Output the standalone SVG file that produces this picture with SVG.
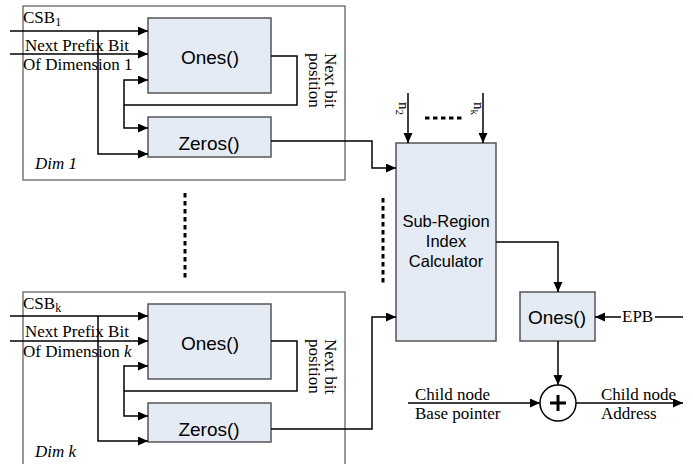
<svg xmlns="http://www.w3.org/2000/svg" width="693" height="464" viewBox="0 0 693 464">
<defs>
<marker id="ah" markerUnits="userSpaceOnUse" markerWidth="11" markerHeight="10" refX="10" refY="4.5" orient="auto">
<path d="M0,0 L10,4.5 L0,9 z" fill="#000"/>
</marker>
<style>
.frame{fill:#fff;stroke:#555;stroke-width:1.2}
.box{fill:#e5ebf5;stroke:#555;stroke-width:1.5}
.ln{fill:none;stroke:#000;stroke-width:1.5}
.ar{fill:none;stroke:#000;stroke-width:1.5;marker-end:url(#ah)}
.dot{fill:none;stroke:#000;stroke-width:3;stroke-dasharray:4.5,3.5}
.tm{font-family:'Liberation Serif','Times New Roman',serif;font-size:17px;fill:#000}
.ts{font-family:'Liberation Serif','Times New Roman',serif;font-size:15px;fill:#000}
.ss{font-family:'Liberation Sans',Arial,sans-serif;font-size:19px;fill:#000}
.ss2{font-family:'Liberation Sans',Arial,sans-serif;font-size:16.5px;fill:#000}
</style>
</defs>
<rect width="693" height="464" fill="#fff"/>

<g id="dim1">
<rect class="frame" x="23" y="6" width="322" height="174"/>
<text class="tm" x="23" y="23">CSB<tspan font-size="12" dy="3">1</tspan></text>
<text class="tm" x="25" y="51">Next Prefix Bit</text>
<text class="tm" x="23" y="70">Of Dimension 1</text>
<text class="tm" x="35" y="169" font-style="italic">Dim 1</text>
<text class="tm" transform="translate(325,53) rotate(90)">Next bit<tspan x="0" dy="16">position</tspan></text>
</g>
<g id="ones1">
<rect class="box" x="148" y="18" width="123" height="75"/>
<text class="ss" x="210" y="64" text-anchor="middle">Ones()</text>
</g>
<g id="zeros1">
<rect class="box" x="148" y="117" width="123" height="40"/>
<text class="ss" x="209" y="150" text-anchor="middle">Zeros()</text>
</g>

<g id="dimk">
<rect class="frame" x="23" y="292" width="322" height="180"/>
<text class="tm" x="23" y="309">CSB<tspan font-size="12" dy="3">k</tspan></text>
<text class="tm" x="25" y="337">Next Prefix Bit</text>
<text class="tm" x="23" y="357">Of Dimension <tspan font-style="italic">k</tspan></text>
<text class="tm" x="35" y="457" font-style="italic">Dim k</text>
<text class="tm" transform="translate(325,339) rotate(90)">Next bit<tspan x="0" dy="16">position</tspan></text>
</g>
<g id="onesk">
<rect class="box" x="148" y="304" width="123" height="75"/>
<text class="ss" x="210" y="350" text-anchor="middle">Ones()</text>
</g>
<g id="zerosk">
<rect class="box" x="148" y="403" width="123" height="39"/>
<text class="ss" x="209" y="436" text-anchor="middle">Zeros()</text>
</g>

<g id="subregion">
<rect class="box" x="396" y="143" width="100" height="198"/>
<text class="ss2" x="446" y="227" text-anchor="middle">Sub-Region</text>
<text class="ss2" x="446" y="247" text-anchor="middle">Index</text>
<text class="ss2" x="446" y="267" text-anchor="middle">Calculator</text>
</g>
<g id="ones2">
<rect class="box" x="520" y="292" width="75" height="49"/>
<text class="ss" x="557" y="324" text-anchor="middle">Ones()</text>
</g>
<g id="adder">
<circle cx="558" cy="403" r="18" fill="#fff" stroke="#000" stroke-width="1.5"/>
<path d="M550,403 H566 M558,395 V411" stroke="#000" stroke-width="3"/>
</g>

<g id="labels">
<text class="ts" transform="translate(399,102) rotate(90)">n<tspan font-size="11" dy="3">2</tspan></text>
<text class="ts" transform="translate(474,102) rotate(90)">n<tspan font-size="11" dy="3">k</tspan></text>
<text class="tm" x="622" y="322">EPB</text>
<text class="tm" x="415" y="400">Child node</text>
<text class="tm" x="415" y="419">Base pointer</text>
<text class="tm" x="601" y="400">Child node</text>
<text class="tm" x="601" y="419">Address</text>
</g>

<g id="connectors">
<path class="ar" d="M10,31 H148"/>
<path class="ar" d="M10,54 H148"/>
<path class="ar" d="M98,31 V154 H148"/>
<path class="ln" d="M271,56 H297 V105 H124"/>
<path class="ar" d="M124,105 V80 H148"/>
<path class="ar" d="M124,105 V128 H148"/>
<path class="ar" d="M271,141 H372 V168 H396"/>
<path class="ar" d="M10,316 H148"/>
<path class="ar" d="M10,341 H148"/>
<path class="ar" d="M98,316 V441 H148"/>
<path class="ln" d="M271,341 H297 V391 H124"/>
<path class="ar" d="M124,391 V366 H148"/>
<path class="ar" d="M124,391 V416 H148"/>
<path class="ar" d="M271,429 H372 V317 H396"/>
<path class="ar" d="M408,93 V143"/>
<path class="ar" d="M483,93 V143"/>
<path class="ar" d="M496,242 H558 V292"/>
<path class="ar" d="M621,317 H595"/>
<path class="ln" d="M655,317 H683"/>
<path class="ar" d="M558,341 V385"/>
<path class="ar" d="M408,403 H540"/>
<path class="ar" d="M576,403 H683"/>
<path class="dot" d="M185,193 V278"/>
<path class="dot" d="M383,198 V284"/>
<path class="dot" d="M425,118 H463"/>
</g>
</svg>
